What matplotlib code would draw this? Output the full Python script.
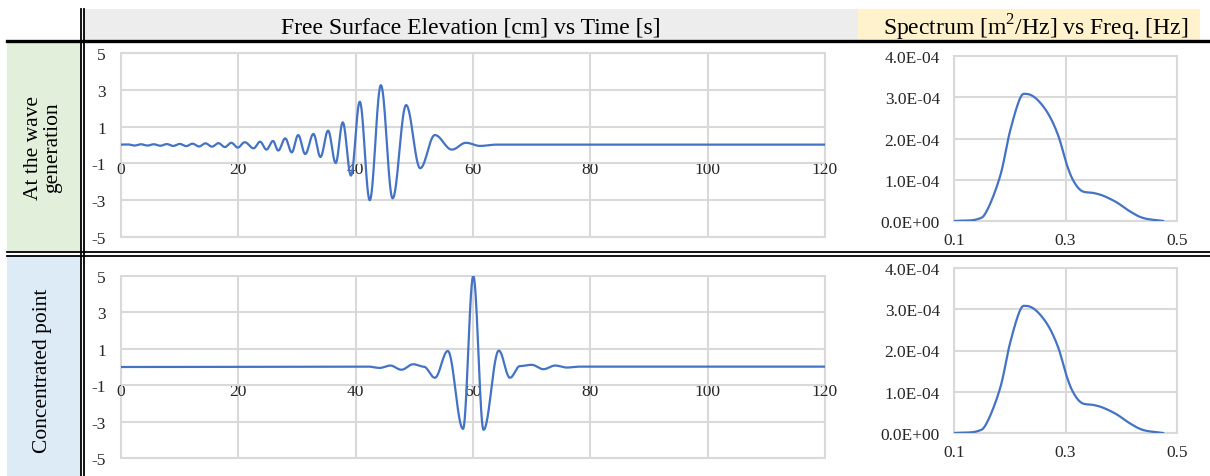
import numpy as np
import matplotlib.pyplot as plt
from matplotlib.patches import Rectangle
from matplotlib.lines import Line2D

plt.rcParams['font.family'] = ['Liberation Serif', 'DejaVu Serif']
plt.rcParams['axes.unicode_minus'] = False
plt.rcParams['mathtext.fontset'] = 'custom'
plt.rcParams['mathtext.rm'] = 'Liberation Serif'

# Free surface elevation at the wave maker: turning points (time s, elevation cm)
gen_t = [0, 1.2, 2.3, 3.4, 4.5, 5.6, 6.7, 7.8, 8.9, 10.0, 11.1, 12.2, 13.3,
         14.4, 15.5, 16.6, 17.7, 18.8, 19.9, 21.1, 22.6, 23.7, 24.8, 25.9,
         26.8, 28.0, 29.1, 30.2, 31.4, 32.8, 34.0, 35.3, 36.6, 37.8, 39.2,
         40.7, 42.4, 44.3, 46.3, 48.6, 51.0, 53.5, 56.4, 58.8, 61.2, 64.0, 120]
gen_eta = [0.02, 0.03, -0.03, 0.04, -0.03, 0.04, -0.04, 0.05, -0.05, 0.06,
           -0.06, 0.07, -0.08, 0.09, -0.09, 0.10, -0.11, 0.12, -0.14, 0.15,
           -0.18, 0.18, -0.25, 0.22, -0.30, 0.36, -0.40, 0.54, -0.49, 0.60,
           -0.65, 0.78, -0.98, 1.23, -1.66, 2.35, -3.00, 3.25, -2.90, 2.17,
           -1.26, 0.54, -0.25, 0.12, -0.05, 0.02, 0.02]

# Free surface elevation at the focusing point
foc_t = [0, 42.2, 44.1, 45.9, 47.8, 49.8, 51.6, 53.5, 55.7, 58.3, 60.05,
         61.8, 64.4, 66.3, 68.0, 70.0, 72.0, 74.0, 76.0, 78.0, 120]
foc_eta = [0.0, 0.02, -0.05, 0.08, -0.15, 0.15, 0.02, -0.59, 0.88, -3.40,
           5.00, -3.45, 0.90, -0.59, 0.05, 0.12, -0.12, 0.08, -0.03, 0.02, 0.02]

# Energy spectrum (same input spectrum for both gauges)
spec_f = [0.100, 0.141, 0.159, 0.183, 0.200, 0.218, 0.230, 0.248, 0.269,
          0.287, 0.302, 0.314, 0.329, 0.350, 0.368, 0.392, 0.416, 0.440, 0.475]
spec_s = [0.0, 0.04e-4, 0.25e-4, 1.10e-4, 2.15e-4, 2.96e-4, 3.08e-4, 2.96e-4,
          2.60e-4, 2.07e-4, 1.38e-4, 0.98e-4, 0.73e-4, 0.68e-4, 0.61e-4,
          0.45e-4, 0.23e-4, 0.07e-4, 0.0]

row_labels = ['At the wave\ngeneration', 'Concentrated point']
head_time = 'Free Surface Elevation [cm] vs Time [s]'
head_spec = r'Spectrum [m$^\mathregular{2}$/Hz] vs Freq. [Hz]'

W, H = 1210, 477
LINE = '#4472C4'
GRID = '#D9D9D9'


def wave_curve(t, v, n=30):
    # half-cosine between successive turning points
    xs, ys = [], []
    for i in range(len(t) - 1):
        s = np.linspace(0, 1, n, endpoint=False)
        xs.append(t[i] + (t[i + 1] - t[i]) * s)
        ys.append(v[i] + (v[i + 1] - v[i]) * (1 - np.cos(np.pi * s)) / 2)
    xs.append([t[-1]])
    ys.append([v[-1]])
    return np.concatenate(xs), np.concatenate(ys)


def catmull_rom(x, y, n=20):
    x = np.asarray(x, float)
    y = np.asarray(y, float)
    px = np.concatenate([[2 * x[0] - x[1]], x, [2 * x[-1] - x[-2]]])
    py = np.concatenate([[2 * y[0] - y[1]], y, [2 * y[-1] - y[-2]]])
    xs, ys = [], []
    s = np.linspace(0, 1, n, endpoint=False)
    for i in range(1, len(px) - 2):
        for p, out in ((px, xs), (py, ys)):
            p0, p1, p2, p3 = p[i - 1], p[i], p[i + 1], p[i + 2]
            out.append(0.5 * (2 * p1 + (-p0 + p2) * s
                              + (2 * p0 - 5 * p1 + 4 * p2 - p3) * s ** 2
                              + (-p0 + 3 * p1 - 3 * p2 + p3) * s ** 3))
    xs.append([x[-1]])
    ys.append([y[-1]])
    return np.concatenate(xs), np.concatenate(ys)


def px_axes(fig, left, top, right, bottom):
    return fig.add_axes([left / W, 1 - bottom / H, (right - left) / W, (bottom - top) / H])


def frame(ax):
    for sp in ax.spines.values():
        sp.set_visible(False)
    ax.grid(True, color=GRID, linewidth=1.5)
    ax.set_axisbelow(True)
    ax.add_patch(Rectangle((0, 0), 1, 1, transform=ax.transAxes, fill=False,
                           edgecolor=GRID, linewidth=1.5, clip_on=False, zorder=0.5))
    ax.tick_params(length=0, labelsize=12.5, colors='#262626')


fig = plt.figure(figsize=(W / 100, H / 100), dpi=100)

# table background, header cells and rules in pixel coordinates
bg = fig.add_axes([0, 0, 1, 1])
bg.set_xlim(0, W)
bg.set_ylim(H, 0)
bg.axis('off')
bg.add_patch(Rectangle((84, 10), 774, 32, color='#EDEDED', lw=0))
bg.add_patch(Rectangle((858, 10), 342, 32, color='#FFF2CC', lw=0))
bg.add_patch(Rectangle((7, 43), 74, 210, color='#E2EFDA', lw=0))
bg.add_patch(Rectangle((7, 256), 74, 221, color='#DDEBF7', lw=0))
bg.add_line(Line2D([7, W], [42, 42], color='black', lw=2.4))
bg.add_line(Line2D([7, W], [253, 253], color='black', lw=1.3))
bg.add_line(Line2D([7, W], [256.5, 256.5], color='black', lw=1.3))
bg.add_line(Line2D([81.2, 81.2], [10, H], color='black', lw=1.3))
bg.add_line(Line2D([84.2, 84.2], [10, H], color='black', lw=1.3))
bg.text(471, 28, head_time, ha='center', va='center', fontsize=17)
bg.text(1036, 28, head_spec, ha='center', va='center', fontsize=17)
bg.text(43, 148, row_labels[0], ha='center', va='center', rotation=90,
        fontsize=15.5, linespacing=0.95)
bg.text(43, 371, row_labels[1], ha='center', va='center', rotation=90, fontsize=15.5)

series = [(gen_t, gen_eta), (foc_t, foc_eta)]
time_boxes = [(121, 54, 825, 238), (121, 277, 825, 459)]
spec_boxes = [(954, 57, 1177, 222), (954, 269, 1177, 434)]

for (t, eta), tb, sb in zip(series, time_boxes, spec_boxes):
    ax = px_axes(fig, *tb)
    frame(ax)
    xt, yt = wave_curve(t, eta)
    ax.plot(xt, yt, color=LINE, lw=1.6, solid_capstyle='round')
    ax.set_xlim(0, 120)
    ax.set_ylim(-5, 5)
    ax.set_xticks(np.arange(0, 121, 20))
    ax.set_yticks([-5, -3, -1, 1, 3, 5])
    ax.spines['bottom'].set_position(('data', -1))
    ax.tick_params(axis='x', pad=-1.5)
    ax.tick_params(axis='y', pad=11)

    axs = px_axes(fig, *sb)
    frame(axs)
    fs, ss = catmull_rom(spec_f, spec_s)
    axs.plot(fs, ss, color=LINE, lw=1.6)
    axs.set_xlim(0.1, 0.5)
    axs.set_ylim(0, 4e-4)
    axs.set_xticks([0.1, 0.3, 0.5])
    axs.set_xticklabels(['0.1', '0.3', '0.5'])
    axs.set_yticks(np.arange(0, 4.01e-4, 1e-4))
    axs.set_yticklabels(['%.1E' % v for v in np.arange(0, 4.01e-4, 1e-4)])
    axs.tick_params(axis='x', pad=8)
    axs.tick_params(axis='y', pad=10)

fig.savefig('out.png', dpi=100)
